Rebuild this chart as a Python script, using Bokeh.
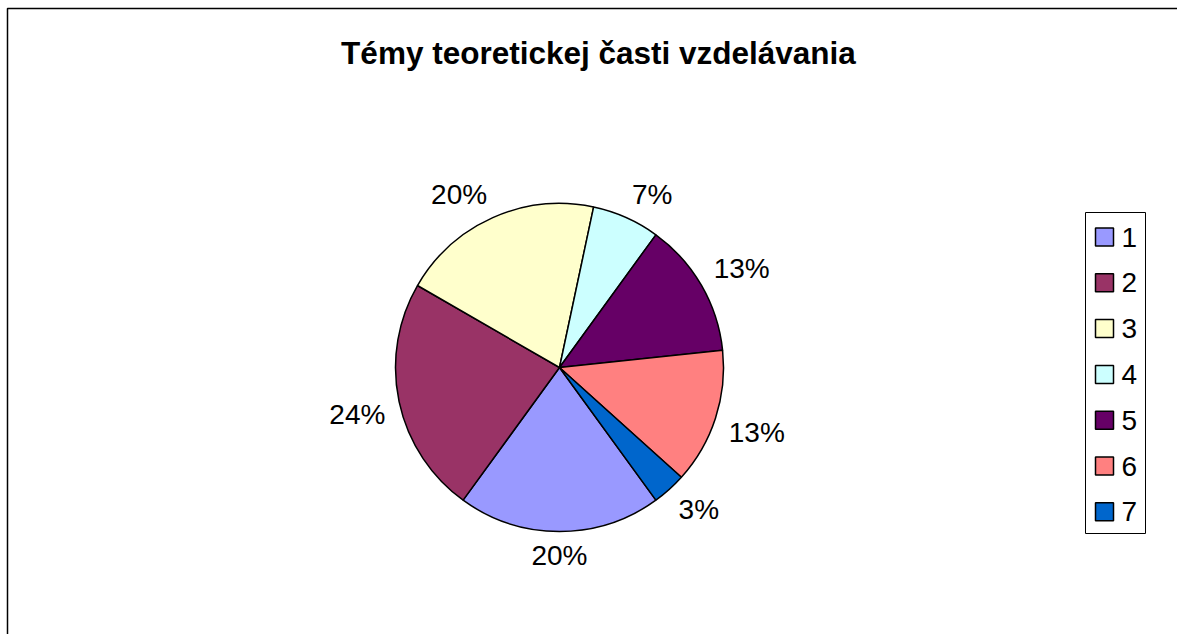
import numpy as np
from bokeh.plotting import figure
from bokeh.models import Range1d, ColumnDataSource, BoxAnnotation
from bokeh.core.properties import value
from bokeh.embed import file_html
from bokeh.resources import INLINE

# ---- data ----
title_text = "Témy teoretickej časti vzdelávania"
categories = ["1", "2", "3", "4", "5", "6", "7"]
counts = [6, 7, 6, 2, 4, 4, 1]
colors = ["#9999FF", "#993366", "#FFFFCC", "#CCFFFF", "#660066", "#FF8080", "#0066CC"]

# ---- layout ----
W, H = 1177, 634
CX, CY_PX, R = 559, 367, 164
FIRST_ANGLE = 144          # degrees clockwise from 12 o'clock
LABEL_R = 178              # radius of label anchor corner
FONT = "Liberation Sans"
FS_LABEL = 28
FS_TITLE = 31.5


def py(ypx):
    return H - ypx


def pct_labels(vals):
    total = float(sum(vals))
    raw = [100.0 * v / total for v in vals]
    fl = [int(np.floor(x)) for x in raw]
    rem = 100 - sum(fl)
    order = sorted(range(len(vals)), key=lambda i: -round(raw[i] - fl[i], 6))
    for i in order[:rem]:
        fl[i] += 1
    return [f"{p}%" for p in fl]


labels = pct_labels(counts)

fr = np.array(counts, dtype=float) / sum(counts)
a1 = FIRST_ANGLE + np.cumsum(fr) * 360.0
a0 = a1 - fr * 360.0
mid = np.radians((a0 + a1) / 2.0)

src = ColumnDataSource(dict(
    start=np.radians(90.0 - a1),
    end=np.radians(90.0 - a0),
    color=colors,
    cat=categories,
))

# label placement: box corner nearest the pie sits on a circle of LABEL_R
ux = np.sin(mid)
uy = -np.cos(mid)          # screen y (downwards)
tw = np.array([FS_LABEL * (0.556 * (len(t) - 1) + 0.889) for t in labels])
th = 0.72 * FS_LABEL
lab_x = CX + LABEL_R * ux + np.sign(np.round(ux, 6)) * tw / 2.0
lab_ypx = CY_PX + LABEL_R * uy + np.sign(np.round(uy, 6)) * th / 2.0
lab_src = ColumnDataSource(dict(x=lab_x, y=py(lab_ypx), text=labels))

p = figure(width=W, height=H, x_range=Range1d(0, W), y_range=Range1d(0, H),
           output_backend="svg", toolbar_location=None, min_border=0,
           x_axis_type=None, y_axis_type=None)
p.grid.visible = False
p.outline_line_color = None
p.background_fill_color = "white"
p.border_fill_color = "white"

# outer chart border
p.add_layout(BoxAnnotation(left=7, right=W + 20, top=py(8), bottom=-20,
                           fill_color=None, line_color="black", line_alpha=1.0,
                           line_width=1.5, level="underlay"))

# legend box
p.add_layout(BoxAnnotation(left=1085, right=1145, top=py(212), bottom=py(533),
                           fill_color=None, line_color="black", line_alpha=1.0,
                           line_width=1, level="underlay"))

p.wedge(x=CX, y=py(CY_PX), radius=R, start_angle="start", end_angle="end",
        fill_color="color", line_color="black", line_width=1.5, source=src)

p.text(x="x", y="y", text="text", source=lab_src, text_align="center",
       text_baseline="middle", text_font=value(FONT),
       text_font_size=f"{FS_LABEL}px", text_color="black")

# title
p.text(x=[598], y=[py(52)], text=[title_text], text_align="center",
       text_baseline="middle", text_font=value(FONT),
       text_font_size=f"{FS_TITLE}px", text_font_style="bold", text_color="black")

# legend
leg_ypx = 236.5 + 45.8 * np.arange(len(categories))
leg_src = ColumnDataSource(dict(
    y=py(leg_ypx),
    color=colors,
    cat=categories,
))
p.rect(x=1104, y="y", width=18, height=18, fill_color="color",
       line_color="black", line_width=1.5, source=leg_src)
p.text(x=1121, y="y", text="cat", source=leg_src, text_align="left",
       text_baseline="middle", text_font=value(FONT),
       text_font_size=f"{FS_LABEL}px", text_color="black")

open("out.html", "w").write(file_html(p, INLINE))
